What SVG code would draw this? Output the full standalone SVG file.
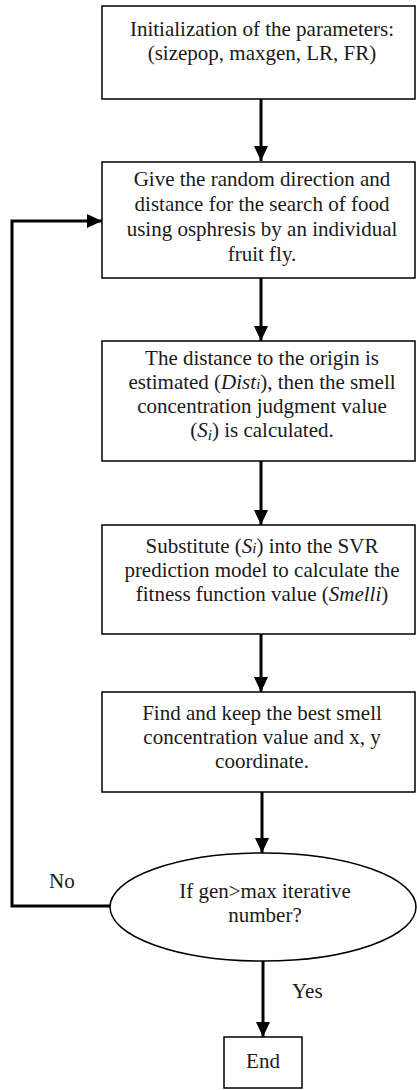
<svg xmlns="http://www.w3.org/2000/svg" width="417" height="1090" viewBox="0 0 417 1090">
<style>
.box{fill:#fff;stroke:#000;stroke-width:1.5}
.t{font-family:"Liberation Serif","Times New Roman",serif;font-size:21px;fill:#1a1a1a;text-anchor:middle}
.l{font-family:"Liberation Serif","Times New Roman",serif;font-size:21px;fill:#1a1a1a}
.c{fill:none;stroke:#000;stroke-width:3}
</style>
<defs>
<marker id="ah" markerUnits="userSpaceOnUse" markerWidth="15" markerHeight="14" refX="15" refY="7" orient="auto">
<path d="M0,0 L15,7 L0,14 Z" fill="#000"/>
</marker>
</defs>
<rect width="417" height="1090" fill="#fff"/>
<g id="connectors">
<line class="c" x1="261" y1="99" x2="261" y2="161" marker-end="url(#ah)"/>
<line class="c" x1="261" y1="278" x2="261" y2="341" marker-end="url(#ah)"/>
<line class="c" x1="261" y1="461" x2="261" y2="525" marker-end="url(#ah)"/>
<line class="c" x1="261" y1="634" x2="261" y2="692" marker-end="url(#ah)"/>
<line class="c" x1="262" y1="792" x2="262" y2="853" marker-end="url(#ah)"/>
<line class="c" x1="263" y1="961" x2="263" y2="1037" marker-end="url(#ah)"/>
<polyline class="c" points="110,906 12,906 12,221 102,221" marker-end="url(#ah)"/>
<text class="l" x="49" y="888">No</text>
<text class="l" x="292" y="998">Yes</text>
</g>
<g id="n1">
<rect class="box" x="102" y="6" width="313" height="93"/>
<text class="t" x="262" y="36">Initialization of the parameters:</text>
<text class="t" x="262" y="60">(sizepop, maxgen, LR, FR)</text>
</g>
<g id="n2">
<rect class="box" x="102" y="162" width="313" height="116"/>
<text class="t" x="262" y="186">Give the random direction and</text>
<text class="t" x="262" y="211">distance for the search of food</text>
<text class="t" x="262" y="236">using osphresis by an individual</text>
<text class="t" x="262" y="261">fruit fly.</text>
</g>
<g id="n3">
<rect class="box" x="102" y="341" width="313" height="120"/>
<text class="t" x="262" y="365">The distance to the origin is</text>
<text class="t" x="262" y="389">estimated (<tspan font-style="italic">Dist</tspan><tspan font-style="italic" font-size="15">i</tspan>), then the smell</text>
<text class="t" x="262" y="413">concentration judgment value</text>
<text class="t" x="262" y="437">(<tspan font-style="italic">S</tspan><tspan font-style="italic" font-size="15" dy="3">i</tspan><tspan dy="-3">) is calculated.</tspan></text>
</g>
<g id="n4">
<rect class="box" x="102" y="525" width="313" height="109"/>
<text class="t" x="262" y="553">Substitute (<tspan font-style="italic">S</tspan><tspan font-style="italic" font-size="15">i</tspan>) into the SVR</text>
<text class="t" x="262" y="577">prediction model to calculate the</text>
<text class="t" x="262" y="601">fitness function value (<tspan font-style="italic">Smelli</tspan>)</text>
</g>
<g id="n5">
<rect class="box" x="102" y="692" width="313" height="100"/>
<text class="t" x="262" y="720">Find and keep the best smell</text>
<text class="t" x="262" y="744">concentration value and x, y</text>
<text class="t" x="262" y="768">coordinate.</text>
</g>
<g id="n6">
<ellipse class="box" cx="263" cy="907" rx="153" ry="54"/>
<text class="t" x="265" y="898">If gen&gt;max iterative</text>
<text class="t" x="265" y="922">number?</text>
</g>
<g id="n7">
<rect class="box" x="224" y="1037" width="78" height="51"/>
<text class="t" x="263" y="1068">End</text>
</g>
</svg>
